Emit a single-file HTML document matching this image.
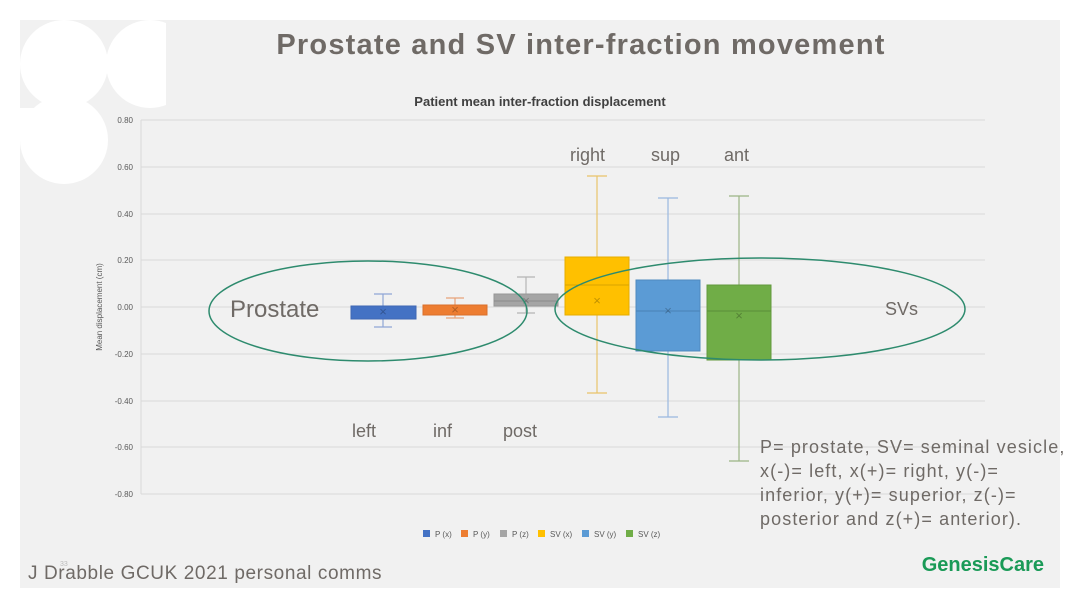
<!DOCTYPE html>
<html><head><meta charset="utf-8"><style>
body{margin:0;background:#fff;width:1080px;height:608px;overflow:hidden}
svg{display:block;font-family:"Liberation Sans",sans-serif}
</style></head><body>
<svg width="1080" height="608" viewBox="0 0 1080 608">
<defs><clipPath id="lc"><rect x="20" y="20" width="146" height="180"/></clipPath></defs>
<rect x="20" y="20" width="1040" height="568" fill="#f1f1f1"/>
<g clip-path="url(#lc)" fill="#fff">
<circle cx="64" cy="64" r="44"/>
<circle cx="150" cy="64" r="44"/>
<circle cx="64" cy="140" r="44"/>
<rect x="20" y="108" width="44" height="32"/>
</g>
<text x="581" y="54" font-size="29" font-weight="bold" fill="#6f6a66" text-anchor="middle" letter-spacing="1.2">Prostate and SV inter-fraction movement</text>
<text x="540" y="106" font-size="13" font-weight="bold" fill="#404040" text-anchor="middle">Patient mean inter-fraction displacement</text>
<g stroke="#d9d9d9" stroke-width="1">
<line x1="141" y1="120" x2="985" y2="120"/><line x1="141" y1="167" x2="985" y2="167"/>
<line x1="141" y1="214" x2="985" y2="214"/><line x1="141" y1="260" x2="985" y2="260"/>
<line x1="141" y1="307" x2="985" y2="307"/><line x1="141" y1="354" x2="985" y2="354"/>
<line x1="141" y1="401" x2="985" y2="401"/><line x1="141" y1="447" x2="985" y2="447"/>
<line x1="141" y1="494" x2="985" y2="494"/><line x1="141" y1="120" x2="141" y2="494"/>
</g>
<g font-size="8" fill="#595959" text-anchor="end">
<text x="133" y="123">0.80</text><text x="133" y="170">0.60</text><text x="133" y="217">0.40</text>
<text x="133" y="263">0.20</text><text x="133" y="310">0.00</text><text x="133" y="357">-0.20</text>
<text x="133" y="404">-0.40</text><text x="133" y="450">-0.60</text><text x="133" y="497">-0.80</text>
</g>
<text transform="translate(102,307) rotate(-90)" font-size="8" fill="#595959" text-anchor="middle">Mean displacement (cm)</text>
<g stroke-width="1.2">
<g stroke="#8fa6d6"><line x1="383" y1="294" x2="383" y2="327"/><line x1="374" y1="294" x2="392" y2="294"/><line x1="374" y1="327" x2="392" y2="327"/></g>
<g stroke="#e8a27a"><line x1="455" y1="298" x2="455" y2="318"/><line x1="446" y1="298" x2="464" y2="298"/><line x1="446" y1="318" x2="464" y2="318"/></g>
<g stroke="#b5b5b5"><line x1="526" y1="277" x2="526" y2="313"/><line x1="517" y1="277" x2="535" y2="277"/><line x1="517" y1="313" x2="535" y2="313"/></g>
<g stroke="#e9c46a"><line x1="597" y1="176" x2="597" y2="393"/><line x1="587" y1="176" x2="607" y2="176"/><line x1="587" y1="393" x2="607" y2="393"/></g>
<g stroke="#9ab8e0"><line x1="668" y1="198" x2="668" y2="417"/><line x1="658" y1="198" x2="678" y2="198"/><line x1="658" y1="417" x2="678" y2="417"/></g>
<g stroke="#9bb585"><line x1="739" y1="196" x2="739" y2="461"/><line x1="729" y1="196" x2="749" y2="196"/><line x1="729" y1="461" x2="749" y2="461"/></g>
</g>
<rect x="351" y="306" width="65" height="13" fill="#4472c4" stroke="#3f68b4"/>
<rect x="423" y="305" width="64" height="10" fill="#ed7d31" stroke="#d9702a"/>
<rect x="494" y="294" width="64" height="12" fill="#a5a5a5" stroke="#969696"/><line x1="494" y1="301" x2="558" y2="301" stroke="#8a8a8a"/>
<rect x="565" y="257" width="64" height="58" fill="#ffc000" stroke="#e6ad00"/><line x1="565" y1="285" x2="629" y2="285" stroke="#d9a400"/>
<rect x="636" y="280" width="64" height="71" fill="#5b9bd5" stroke="#4f8ac0"/><line x1="636" y1="311" x2="700" y2="311" stroke="#4a82b5"/>
<rect x="707" y="285" width="64" height="75" fill="#70ad47" stroke="#62993d"/><line x1="707" y1="311" x2="771" y2="311" stroke="#5a8d38"/>
<g font-size="13" text-anchor="middle" fill="rgba(0,0,0,0.25)">
<text x="383" y="316">×</text><text x="455" y="314">×</text><text x="526" y="305">×</text>
<text x="597" y="305">×</text><text x="668" y="315">×</text><text x="739" y="320">×</text>
</g>
<ellipse cx="368" cy="311" rx="159" ry="50" fill="none" stroke="#2e8b6e" stroke-width="1.5"/>
<ellipse cx="760" cy="309" rx="205" ry="51" fill="none" stroke="#2e8b6e" stroke-width="1.5"/>
<g fill="#6f6a66" font-size="18">
<text x="230" y="317" font-size="24">Prostate</text>
<text x="885" y="315">SVs</text>
<text x="352" y="437">left</text><text x="433" y="437">inf</text><text x="503" y="437">post</text>
<text x="570" y="161">right</text><text x="651" y="161">sup</text><text x="724" y="161">ant</text>
</g>
<g fill="#6f6a66" font-size="18" letter-spacing="1.1">
<text x="760" y="453">P= prostate, SV= seminal vesicle,</text>
<text x="760" y="477">x(-)= left, x(+)= right, y(-)=</text>
<text x="760" y="501">inferior, y(+)= superior, z(-)=</text>
<text x="760" y="525">posterior and z(+)= anterior).</text>
</g>
<g font-size="8" fill="#595959">
<rect x="423" y="530" width="7" height="7" fill="#4472c4"/><text x="435" y="537">P (x)</text>
<rect x="461" y="530" width="7" height="7" fill="#ed7d31"/><text x="473" y="537">P (y)</text>
<rect x="500" y="530" width="7" height="7" fill="#a5a5a5"/><text x="512" y="537">P (z)</text>
<rect x="538" y="530" width="7" height="7" fill="#ffc000"/><text x="550" y="537">SV (x)</text>
<rect x="582" y="530" width="7" height="7" fill="#5b9bd5"/><text x="594" y="537">SV (y)</text>
<rect x="626" y="530" width="7" height="7" fill="#70ad47"/><text x="638" y="537">SV (z)</text>
</g>
<text x="60" y="566" font-size="7" fill="#bbb">33</text>
<text x="28" y="579" font-size="19" fill="#6f6a66" letter-spacing="0.6">J Drabble GCUK 2021 personal comms</text>
<text x="1044" y="571" font-size="20" font-weight="bold" fill="#1a9a57" text-anchor="end">GenesisCare</text>
</svg>
</body></html>
